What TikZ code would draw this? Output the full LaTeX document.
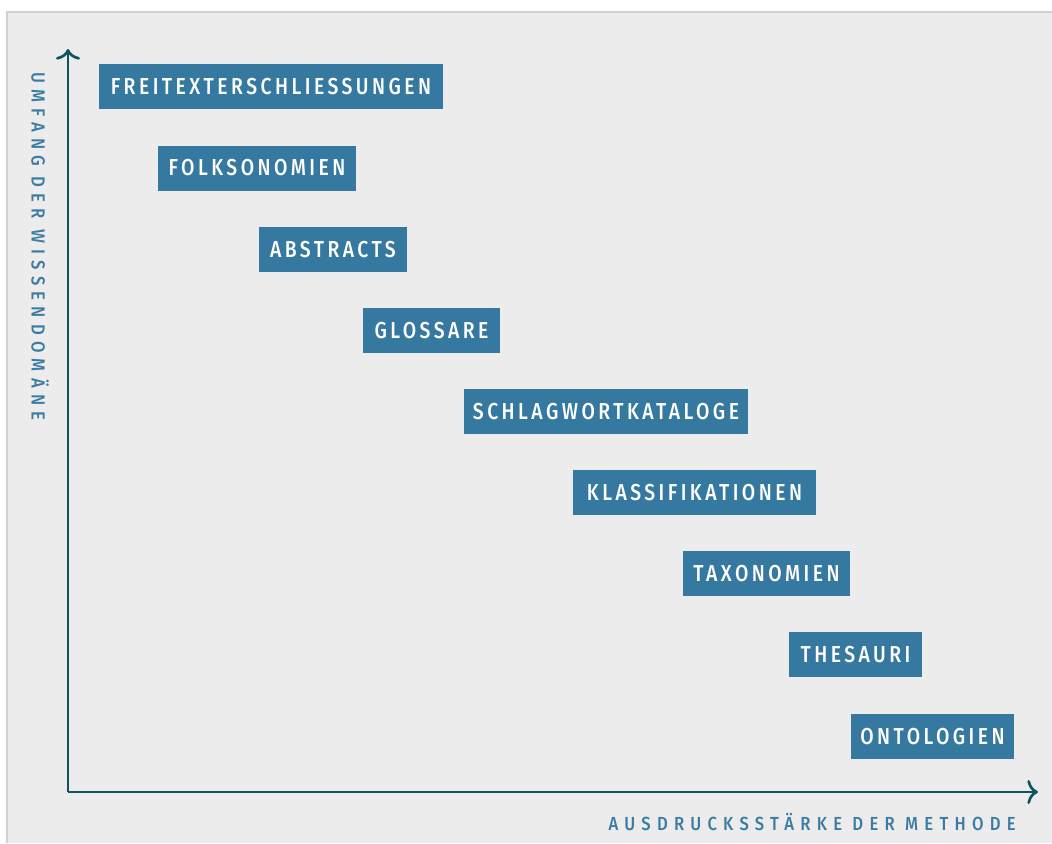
\documentclass[tikz,border=0pt]{standalone}
\usepackage{fontspec}
\usetikzlibrary{arrows.meta}
\setmainfont{Fira Sans}
\newfontfamily\boxfont{Fira Sans Medium}[FakeStretch=0.84,LetterSpace=15]
\newfontfamily\axisfont{Fira Sans Medium}[FakeStretch=0.88,LetterSpace=33]
\definecolor{panel}{HTML}{ECECEC}
\definecolor{panelline}{HTML}{D0D0D0}
\definecolor{boxblue}{HTML}{3578A0}
\definecolor{axisteal}{HTML}{0B5561}
\definecolor{labelblue}{HTML}{3A7CA3}
\tikzset{
  method/.style={fill=boxblue, text=white, minimum height=33.75pt, inner sep=0pt,
    font=\boxfont\fontsize{17.3}{17.3}\selectfont},
  axislabel/.style={text=labelblue, inner sep=0pt, font=\axisfont\fontsize{14.2}{14.2}\selectfont},
  axis/.style={draw=axisteal, line width=2pt, -{To[length=8pt,width=18pt]}}
}
\begin{document}
\begin{tikzpicture}[x=0.75pt,y=-0.75pt]
        \useasboundingbox (0,0) rectangle (1052,843);
        \fill[panel] (7,12) rectangle (1052,843);
        \draw[panelline, line width=1.2pt] (7,843) -- (7,12) -- (1052,12);
        % axes
        \coordinate (origin) at (68,792);
        \coordinate (ytip) at (68,49);
        \coordinate (xtip) at (1038,792);
        \draw[axis] (origin) -- (ytip);
        \draw[axis] (origin) -- (xtip);
        \node[axislabel, rotate=-90, anchor=west] (ylab) at (40,72) {UMFANG DER WISSENDOMÄNE};
        \node[axislabel, anchor=east] (xlab) at (1016,822) {AUSDRUCKSSTÄRKE DER METHODE};
        % methods
        \node[method, minimum width=258pt] (freitext) at (271,86.5) {FREITEXTERSCHLIESSUNGEN};
        \node[method, minimum width=148.5pt] (folkso) at (257,168) {FOLKSONOMIEN};
        \node[method, minimum width=111pt] (abstracts) at (333,249.5) {ABSTRACTS};
        \node[method, minimum width=102.75pt] (glossare) at (431.5,330.5) {GLOSSARE};
        \node[method, minimum width=213pt] (schlagwort) at (606,411.5) {SCHLAGWORTKATALOGE};
        \node[method, minimum width=182.25pt] (klassi) at (694.5,492.5) {KLASSIFIKATIONEN};
        \node[method, minimum width=125.25pt] (taxo) at (766.5,573.5) {TAXONOMIEN};
        \node[method, minimum width=99.75pt] (thesauri) at (855.5,654.5) {THESAURI};
        \node[method, minimum width=122.25pt] (onto) at (932.5,736.5) {ONTOLOGIEN};
      \end{tikzpicture}
\end{document}
